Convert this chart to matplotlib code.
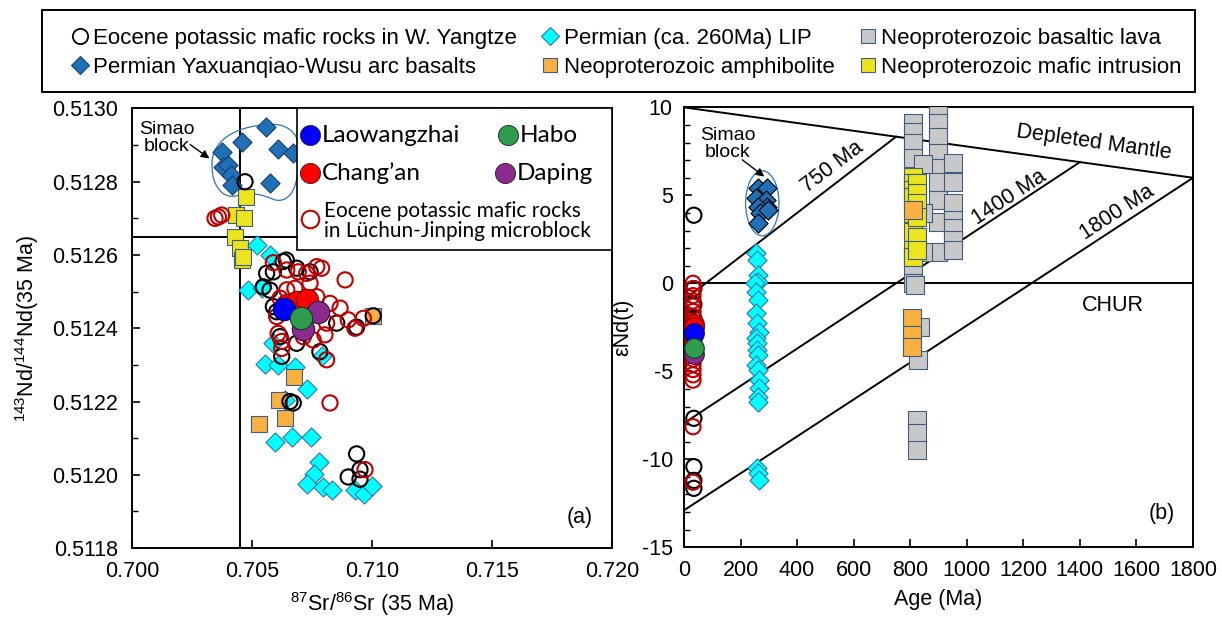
import numpy as np
import matplotlib.pyplot as plt
from matplotlib.lines import Line2D
from matplotlib.patches import Ellipse, Polygon, Rectangle

plt.rcParams['font.family'] = ['Liberation Sans', 'DejaVu Sans']
plt.rcParams['mathtext.fontset'] = 'custom'
plt.rcParams['mathtext.rm'] = 'Liberation Sans'
plt.rcParams['mathtext.it'] = 'Liberation Sans:italic'
plt.rcParams['axes.unicode_minus'] = False

# ---------------- (a) 87Sr/86Sr vs 143Nd/144Nd at 35 Ma ----------------
arc_sr = [0.70375, 0.70458, 0.70558, 0.70608, 0.70671, 0.70379, 0.70400, 0.70413, 0.70417, 0.70575]
arc_nd = [0.512881, 0.512908, 0.512949, 0.512889, 0.512878, 0.512840, 0.512845, 0.512818, 0.512791, 0.512796]

intr_sr = [0.70474, 0.70432, 0.70467, 0.70429, 0.70450, 0.70457, 0.70463]
intr_nd = [0.512757, 0.512709, 0.512700, 0.512650, 0.512618, 0.512586, 0.512595]

lip_sr = [0.70520, 0.70575, 0.70485, 0.70540, 0.70589, 0.70554, 0.70610, 0.70679, 0.70730, 0.70638,
          0.70790, 0.70596, 0.70665, 0.70746, 0.70779, 0.70758, 0.70728, 0.70797, 0.70832, 0.70929,
          0.70968, 0.70999]
lip_nd = [0.512627, 0.512600, 0.512505, 0.512509, 0.512359, 0.512303, 0.512300, 0.512294, 0.512234, 0.512204,
          0.512323, 0.512089, 0.512103, 0.512103, 0.512036, 0.512003, 0.511975, 0.511966, 0.511959, 0.511959,
          0.511948, 0.511970]

amph_sr = [0.70675, 0.70614, 0.70638, 0.70530, 0.71005]
amph_nd = [0.512268, 0.512203, 0.512155, 0.512139, 0.512434]

wy_sr = [0.70471, 0.70630, 0.70561, 0.70589, 0.70686, 0.70742, 0.70547, 0.70575, 0.70589, 0.70603,
         0.70853, 0.70936, 0.70617, 0.70686, 0.70783, 0.70624, 0.70658, 0.70643, 0.71005, 0.70672,
         0.70936, 0.70901, 0.70950, 0.70950]
wy_nd = [0.512800, 0.512582, 0.512550, 0.512554, 0.512564, 0.512554, 0.512513, 0.512504, 0.512459, 0.512445,
         0.512414, 0.512403, 0.512377, 0.512359, 0.512336, 0.512323, 0.512200, 0.512586, 0.512434, 0.512196,
         0.512057, 0.511994, 0.511988, 0.512014]

lj_sr = [0.70346, 0.70360, 0.70374, 0.70589, 0.70645, 0.70728, 0.70770, 0.70790, 0.70888, 0.70693,
         0.70742, 0.70645, 0.70617, 0.70679, 0.70770, 0.70825, 0.70867, 0.70901, 0.70964, 0.70929,
         0.70811, 0.70804, 0.70755, 0.70609, 0.70624, 0.70624, 0.70811, 0.70825, 0.70603, 0.70714,
         0.70971]
lj_nd = [0.512700, 0.512704, 0.512709, 0.512579, 0.512559, 0.512550, 0.512568, 0.512564, 0.512532, 0.512554,
         0.512523, 0.512505, 0.512482, 0.512509, 0.512486, 0.512468, 0.512455, 0.512423, 0.512427, 0.512400,
         0.512414, 0.512382, 0.512368, 0.512386, 0.512364, 0.512345, 0.512314, 0.512196, 0.512432, 0.512377,
         0.512014]

lwz_sr, lwz_nd = [0.70633], [0.512452]
ca_sr, ca_nd = [0.70645, 0.70686, 0.70728], [0.512464, 0.512473, 0.512477]
habo_sr, habo_nd = [0.70703], [0.512427]
dp_sr, dp_nd = [0.70776, 0.70714], [0.512445, 0.512397]

# outline of the Simao block field
simao_sr = [0.70330, 0.70379, 0.70462, 0.70587, 0.70658, 0.70700, 0.70687, 0.70625, 0.70546, 0.70479, 0.70396, 0.70338]
simao_nd = [0.512873, 0.512919, 0.512947, 0.512960, 0.512947, 0.512908, 0.512783, 0.512742, 0.512764, 0.512769, 0.512755, 0.512796]

bulk_sr, bulk_nd = 0.7045, 0.51265

# ---------------- (b) eNd(t) vs age ----------------
wy_age = [35] * 11
wy_end = [3.87, -0.3, -1.2, -2.0, -2.7, -3.2, -4.1, -7.67, -10.42, -11.2, -11.65]

lj_age = [32] * 21
lj_end = [0.0, -0.3, -0.7, -1.0, -1.3, -1.6, -1.9, -2.2, -2.5, -2.8, -3.1, -3.4, -3.7, -4.0, -4.3,
          -4.6, -4.9, -5.2, -5.5, -8.15, -11.3]

lwz_age, lwz_end = [35], [-2.84]
ca_age, ca_end = [35, 35], [-2.3, -2.5]
habo_age, habo_end = [35], [-3.69]
dp_age, dp_end = [35], [-4.0]

arc_age = [262, 293, 255, 290, 293, 262, 270, 262, 298]
arc_end = [5.4, 5.4, 4.83, 4.73, 4.35, 4.35, 3.98, 3.41, 4.16]

lip_age = [255, 258, 262, 262, 252, 255, 262, 255, 258, 265, 255, 258, 258, 262, 255, 262, 265,
           265, 262, 262, 258, 262, 265]
lip_end = [1.7, 1.32, 0.47, 0.09, 0.0, -0.48, -0.95, -1.7, -2.27, -2.75, -3.13, -3.41, -3.79,
           -4.1, -4.64, -4.93, -5.49, -5.97, -6.44, -6.73, -10.51, -10.8, -11.18]

lava_age = [811, 811, 811, 811, 811, 811, 811, 899, 899, 899, 899, 899, 899, 899, 899, 899,
            952, 952, 952, 952, 952, 952, 952, 846, 846, 846, 817, 835, 829, 823, 823, 823]
lava_end = [9.09, 8.61, 7.95, 7.10, 1.51, 0.57, 0.0, 9.56, 9.09, 8.33, 7.39, 6.53, 5.77, 4.73,
            3.5, 1.8, 6.82, 5.77, 4.55, 3.6, 3.13, 2.46, 1.89, 6.8, 4.0, 1.8, -0.1, -2.46, -4.36,
            -7.77, -8.52, -9.47]

mint_age = [811, 811, 811, 811, 811, 811, 811, 811, 823, 823, 823, 823, 823, 823]
mint_end = [6.06, 5.68, 5.3, 4.92, 3.98, 2.93, 1.89, 1.51, 5.68, 5.11, 4.55, 3.78, 2.65, 1.89]

amph_age = [811, 805, 805, 805]
amph_end = [4.16, -1.99, -2.94, -3.6]

# depleted mantle and crustal evolution lines
dm_t = [0, 1800]
dm_e = [10.0, 6.0]
evo_t = [750, 1400, 1800]
evo_e0 = [-0.95, -7.95, -12.9]

# colours
c_arc, e_arc = '#2070b8', '#17406b'
c_lip, e_lip = '#00ffff', '#2e75b6'
c_amph = '#f8b040'
c_lava = '#c8c8c8'
c_mint = '#ece41c'
e_sq = '#3f5d80'
c_red = '#c00000'

FS = 15.5


def smooth_closed(x, y, n=4):
    pts = np.column_stack([x, y])
    for _ in range(n):
        nxt = np.roll(pts, -1, axis=0)
        q = 0.75 * pts + 0.25 * nxt
        r = 0.25 * pts + 0.75 * nxt
        pts = np.empty((len(q) * 2, 2))
        pts[0::2] = q
        pts[1::2] = r
    return pts


fig = plt.figure(figsize=(12.22, 6.17), dpi=100)
ax1 = fig.add_axes([0.108, 0.1118, 0.3928, 0.7124])
ax2 = fig.add_axes([0.5597, 0.113, 0.4166, 0.713])

# ---- panel a ----
ax1.add_patch(Polygon(smooth_closed(simao_sr, simao_nd), closed=True, fill=False,
                      ec='#2e75b6', lw=0.9, zorder=2))
ax1.axvline(bulk_sr, color='black', lw=1.4, zorder=1)
ax1.axhline(bulk_nd, color='black', lw=1.4, zorder=1)

ax1.scatter(intr_sr, intr_nd, marker='s', s=130, c=c_mint, edgecolors=e_sq, linewidths=0.8, zorder=3)
ax1.scatter(arc_sr, arc_nd, marker='D', s=95, c=c_arc, edgecolors=e_arc, linewidths=0.8, zorder=3)
ax1.scatter(lip_sr, lip_nd, marker='D', s=95, c=c_lip, edgecolors=e_lip, linewidths=0.8, zorder=3)
ax1.scatter(amph_sr, amph_nd, marker='s', s=130, c=c_amph, edgecolors=e_sq, linewidths=0.8, zorder=3)
ax1.scatter(wy_sr, wy_nd, marker='o', s=120, facecolors='none', edgecolors='black', linewidths=1.5, zorder=4)
ax1.scatter(lj_sr, lj_nd, marker='o', s=120, facecolors='none', edgecolors=c_red, linewidths=1.5, zorder=5)
ax1.scatter(ca_sr, ca_nd, marker='o', s=260, c='#ff0000', edgecolors='#7a0000', linewidths=0.8, zorder=6)
ax1.scatter(dp_sr, dp_nd, marker='o', s=260, c='#8b2a8f', edgecolors='#3a103a', linewidths=0.8, zorder=6)
ax1.scatter(lwz_sr, lwz_nd, marker='o', s=260, c='#0000ff', edgecolors='#00005a', linewidths=0.8, zorder=7)
ax1.scatter(habo_sr, habo_nd, marker='o', s=260, c='#2e9b4e', edgecolors='#0f3d1c', linewidths=0.8, zorder=7)

ax1.set_xlim(0.700, 0.720)
ax1.set_ylim(0.5118, 0.5130)
ax1.set_xticks(np.arange(0.700, 0.7201, 0.005))
ax1.set_yticks(np.arange(0.5118, 0.51301, 0.0002))
ax1.set_yticks(np.arange(0.5118, 0.51301, 0.0001), minor=True)
ax1.xaxis.set_major_formatter(plt.FormatStrFormatter('%.3f'))
ax1.yaxis.set_major_formatter(plt.FormatStrFormatter('%.4f'))
ax1.tick_params(direction='in', labelsize=FS, length=6, width=1.2)
ax1.tick_params(axis='x', pad=9)
ax1.tick_params(axis='y', pad=10)
ax1.tick_params(which='minor', direction='in', length=4, width=1.0)
ax1.set_xlabel(r'$^{87}$Sr/$^{86}$Sr (35 Ma)', fontsize=FS, labelpad=6)
ax1.set_ylabel(r'$^{143}$Nd/$^{144}$Nd(35 Ma)', fontsize=FS, labelpad=8)
for sp in ax1.spines.values():
    sp.set_linewidth(1.4)

ax1.text(0.70146, 0.51292, 'Simao\nblock', fontsize=14, ha='center', va='center', linespacing=1.0)
ax1.annotate('', xy=(0.70332, 0.512859), xytext=(0.70233, 0.512906),
             arrowprops=dict(arrowstyle='-|>', color='black', lw=1.0, mutation_scale=12))
ax1.text(0.933, 0.07, '(a)', transform=ax1.transAxes, fontsize=FS, ha='center', va='center')

# sample legend box
lx0, ly0 = 0.344, 0.678
ax1.add_patch(Rectangle((lx0, ly0), 1 - lx0, 1 - ly0, transform=ax1.transAxes, fc='white',
                        ec='black', lw=1.2, zorder=8))
lfont = ['Lato', 'DejaVu Sans']
entries = [(0.371, 0.939, '#0000ff', 'Laowangzhai'), (0.783, 0.939, '#2e9b4e', 'Habo'),
           (0.371, 0.853, '#ff0000', 'Chang\u2019an'), (0.777, 0.853, '#8b2a8f', 'Daping')]
for ex, ey, col, lab in entries:
    ax1.scatter([ex], [ey], s=210, c=col, edgecolors='#222222', linewidths=0.6,
                transform=ax1.transAxes, zorder=9, clip_on=False)
    ax1.text(ex + 0.025, ey, lab, transform=ax1.transAxes, fontsize=17.5, family=lfont,
             va='center', ha='left', zorder=9)
ax1.scatter([0.371], [0.748], s=160, facecolors='white', edgecolors=c_red, linewidths=1.5,
            transform=ax1.transAxes, zorder=9, clip_on=False)
ax1.text(0.400, 0.745, 'Eocene potassic mafic rocks\nin L\u00fcchun-Jinping microblock',
         transform=ax1.transAxes, fontsize=15, family=lfont, va='center', ha='left',
         linespacing=1.0, zorder=9)

# ---- panel b ----
ax2.plot(dm_t, dm_e, color='black', lw=1.4, zorder=1)
ax2.axhline(0, color='black', lw=1.4, zorder=1)
for t, e0 in zip(evo_t, evo_e0):
    e_dm = np.interp(t, dm_t, dm_e)
    ax2.plot([0, t], [e0, e_dm], color='black', lw=1.4, zorder=1)

ax2.add_patch(Ellipse((277, 4.55), 118, 3.7, fill=False, ec='#2e75b6', lw=0.9, zorder=2))

ax2.scatter(lava_age, lava_end, marker='s', s=160, c=c_lava, edgecolors=e_sq, linewidths=0.8, zorder=3)
ax2.scatter(mint_age, mint_end, marker='s', s=160, c=c_mint, edgecolors=e_sq, linewidths=0.8, zorder=4)
ax2.scatter(amph_age, amph_end, marker='s', s=160, c=c_amph, edgecolors=e_sq, linewidths=0.8, zorder=5)
ax2.scatter(lip_age, lip_end, marker='D', s=95, c=c_lip, edgecolors=e_lip, linewidths=0.8, zorder=3)
ax2.scatter(arc_age, arc_end, marker='D', s=95, c=c_arc, edgecolors='black', linewidths=0.8, zorder=3)
ax2.scatter(wy_age, wy_end, marker='o', s=120, facecolors='none', edgecolors='black', linewidths=1.5, zorder=4)
ax2.scatter(lj_age, lj_end, marker='o', s=120, facecolors='none', edgecolors=c_red, linewidths=1.5, zorder=5)
ax2.scatter(ca_age, ca_end, marker='o', s=200, c='#ff0000', edgecolors='#7a0000', linewidths=0.8, zorder=6)
ax2.scatter(dp_age, dp_end, marker='o', s=200, c='#8b2a8f', edgecolors='#3a103a', linewidths=0.8, zorder=6)
ax2.scatter(lwz_age, lwz_end, marker='o', s=200, c='#0000ff', edgecolors='#00005a', linewidths=0.8, zorder=7)
ax2.scatter(habo_age, habo_end, marker='o', s=200, c='#2e9b4e', edgecolors='#0f3d1c', linewidths=0.8, zorder=7)

ax2.set_xlim(0, 1800)
ax2.set_ylim(-15, 10)
ax2.set_xticks(np.arange(0, 1801, 200))
ax2.set_yticks(np.arange(-15, 11, 5))
ax2.set_yticks(np.arange(-15, 11, 1), minor=True)
ax2.tick_params(direction='in', labelsize=FS, length=6, width=1.2)
ax2.tick_params(axis='x', pad=9)
ax2.tick_params(axis='y', pad=8)
ax2.tick_params(which='minor', direction='in', length=4, width=1.0)
ax2.set_xlabel('Age (Ma)', fontsize=FS, labelpad=6)
ax2.set_ylabel('\u03b5Nd(t)', fontsize=FS, labelpad=6)
for sp in ax2.spines.values():
    sp.set_linewidth(1.4)

ax2.text(155, 7.9, 'Simao\nblock', fontsize=14, ha='center', va='center', linespacing=1.0)
ax2.annotate('', xy=(292, 5.97), xytext=(198, 7.12),
             arrowprops=dict(arrowstyle='-|>', color='black', lw=1.0, mutation_scale=12))
ax2.text(525, 6.6, '750 Ma', fontsize=FS, rotation=37, ha='center', va='center')
ax2.text(1150, 4.9, '1400 Ma', fontsize=FS, rotation=33, ha='center', va='center')
ax2.text(1530, 4.0, '1800 Ma', fontsize=FS, rotation=33, ha='center', va='center')
ax2.text(1450, 8.0, 'Depleted Mantle', fontsize=FS, rotation=-8, ha='center', va='center')
ax2.text(1515, -1.25, 'CHUR', fontsize=FS, ha='center', va='center')
ax2.text(1690, -13.1, '(b)', fontsize=FS, ha='center', va='center')

# ---- shared legend ----
handles = [
    Line2D([], [], ls='none', marker='o', mfc='white', mec='black', ms=11, mew=1.3,
           label='Eocene potassic mafic rocks in W. Yangtze'),
    Line2D([], [], ls='none', marker='D', mfc=c_arc, mec=e_arc, ms=9, mew=0.8,
           label='Permian Yaxuanqiao-Wusu arc basalts'),
    Line2D([], [], ls='none', marker='D', mfc=c_lip, mec=e_lip, ms=9, mew=0.8,
           label='Permian (ca. 260Ma) LIP'),
    Line2D([], [], ls='none', marker='s', mfc=c_amph, mec=e_sq, ms=10, mew=0.8,
           label='Neoproterozoic amphibolite'),
    Line2D([], [], ls='none', marker='s', mfc=c_lava, mec=e_sq, ms=10, mew=0.8,
           label='Neoproterozoic basaltic lava'),
    Line2D([], [], ls='none', marker='s', mfc=c_mint, mec=e_sq, ms=10, mew=0.8,
           label='Neoproterozoic mafic intrusion'),
]
fig.add_artist(Rectangle((0.0344, 0.851), 0.9436, 0.133, transform=fig.transFigure,
                         fill=False, ec='black', lw=1.4))
leg = fig.legend(handles=handles, ncol=3, loc='center', mode='expand',
                 bbox_to_anchor=(0.0589, 0.914, 0.908, 0.0), fontsize=16,
                 frameon=False, handlelength=0.7, handletextpad=0.25, borderpad=0,
                 labelspacing=0.35, borderaxespad=0)

fig.savefig('out.png', dpi=100)
